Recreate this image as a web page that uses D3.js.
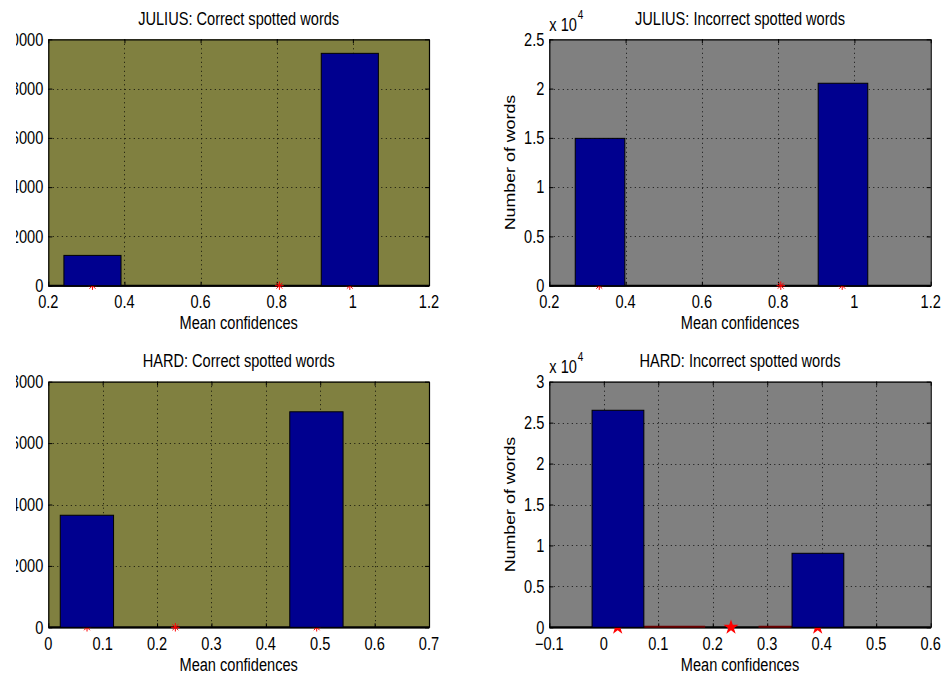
<!DOCTYPE html>
<html><head><meta charset="utf-8">
<script src="https://cdn.jsdelivr.net/npm/d3@7"></script>
<style>
html,body{margin:0;padding:0;background:#fff;}
svg{display:block;font-family:"Liberation Sans",Arial,sans-serif;}
</style></head>
<body>
<svg id="chart" width="949" height="679"></svg>
<script>
// ---------- data ----------
const titles = ["JULIUS: Correct spotted words", "JULIUS: Incorrect spotted words",
                "HARD: Correct spotted words", "HARD: Incorrect spotted words"];
const xLabel = "Mean confidences";
const yLabel = "Number of words";

const julCorrectCenters = [0.316, 0.992];
const julCorrectCounts = [1230, 9430];
const julCorrectStars = [0.316, 0.807, 0.992];

const julIncorrectCenters = [0.333, 0.970];
const julIncorrectCounts = [14950, 20540];
const julIncorrectStars = [0.331, 0.807, 0.968];

const hardCorrectCenters = [0.071, 0.493];
const hardCorrectCounts = [3650, 7020];
const hardCorrectStars = [0.0712, 0.2336, 0.4935];

const hardIncorrectCenters = [0.026, 0.393];
const hardIncorrectCounts = [26510, 9040];
const hardIncorrectStars = [0.0255, 0.2335, 0.3926];
const hardIncorrectZeroLine = [[0.074, 0.186], [0.284, 0.345]];

const barWidths = [0.15, 0.13, 0.098, 0.095];

const xTicksJulius = [0.2, 0.4, 0.6, 0.8, 1, 1.2];
const xTicksHard = [0, 0.1, 0.2, 0.3, 0.4, 0.5, 0.6, 0.7];
const xTicksHardInc = [-0.1, 0, 0.1, 0.2, 0.3, 0.4, 0.5, 0.6];
const yTicksJulCorrect = [0, 2000, 4000, 6000, 8000, 10000];
const yTicksJulIncorrect = [0, 5000, 10000, 15000, 20000, 25000];
const yTicksHardCorrect = [0, 2000, 4000, 6000, 8000];
const yTicksHardIncorrect = [0, 5000, 10000, 15000, 20000, 25000, 30000];

// ---------- layout / style ----------
const FS = 14.6, SY = 1.22;
const OLIVE = "#808040", GRAY = "#808080", NAVY = "#00008f";
const svg = d3.select("#chart");

// the reference figure is cropped on its left edge, cutting the left panels' tick labels
svg.append("defs").append("clipPath").attr("id", "leftcrop")
  .append("rect").attr("x", 16).attr("y", 0).attr("width", 949).attr("height", 679);

const panels = [
  {box:[48.3, 429, 39.3, 285.7], bg:OLIVE, centers:julCorrectCenters, counts:julCorrectCounts, stars:julCorrectStars,
   xd:[0.2,1.2], yd:[0,10000], xt:xTicksJulius, yt:yTicksJulCorrect, sci:false, ylab:false, star:"ast"},
  {box:[549.3, 930.7, 39.3, 285.7], bg:GRAY, centers:julIncorrectCenters, counts:julIncorrectCounts, stars:julIncorrectStars,
   xd:[0.2,1.2], yd:[0,25000], xt:xTicksJulius, yt:yTicksJulIncorrect, sci:true, ylab:true, star:"ast"},
  {box:[48.3, 429, 381.7, 627.3], bg:OLIVE, centers:hardCorrectCenters, counts:hardCorrectCounts, stars:hardCorrectStars,
   xd:[0,0.7], yd:[0,8000], xt:xTicksHard, yt:yTicksHardCorrect, sci:false, ylab:false, star:"ast"},
  {box:[549.3, 930.7, 381.7, 627.3], bg:GRAY, centers:hardIncorrectCenters, counts:hardIncorrectCounts, stars:hardIncorrectStars,
   xd:[-0.1,0.6], yd:[0,30000], xt:xTicksHardInc, yt:yTicksHardIncorrect, sci:true, ylab:true, star:"star", zline:hardIncorrectZeroLine}
];

function txt(g, x, y, s, anchor, rot, size) {
  const t = g.append("g")
    .attr("transform", `translate(${x},${y}) scale(1,${SY})` + (rot ? " rotate(-90)" : ""))
    .append("text").attr("text-anchor", anchor).attr("font-size", size || FS).attr("fill", "#000");
  t.text(s);
  return t;
}
function fmtX(v) { return (v < 0 ? "\u2212" : "") + d3.format("~g")(Math.abs(v)); }

panels.forEach((p, i) => {
  const [x0, x1, y0, y1] = p.box;
  const x = d3.scaleLinear().domain(p.xd).range([x0, x1]);
  const y = d3.scaleLinear().domain(p.yd).range([y1, y0]);
  const g = svg.append("g");

  g.append("rect").attr("x", x0).attr("y", y0).attr("width", x1 - x0).attr("height", y1 - y0).attr("fill", p.bg);

  // grid
  const grid = g.append("g").attr("stroke", "#000").attr("stroke-width", 1).attr("stroke-dasharray", "1,3.5").attr("opacity", 0.85);
  p.xt.forEach(v => { if (v > p.xd[0] && v < p.xd[1]) grid.append("line").attr("x1", Math.round(x(v))+0.5).attr("x2", Math.round(x(v))+0.5).attr("y1", y0).attr("y2", y1); });
  p.yt.forEach(v => { if (v > p.yd[0] && v < p.yd[1]) grid.append("line").attr("y1", Math.round(y(v))+0.5).attr("y2", Math.round(y(v))+0.5).attr("x1", x0).attr("x2", x1); });

  // axes via d3 (ticks inward, on all sides)
  const tl = 4;
  const axB = d3.axisBottom(x).tickValues(p.xt).tickSizeInner(-tl).tickSizeOuter(0).tickFormat("");
  const axT = d3.axisTop(x).tickValues(p.xt).tickSizeInner(-tl).tickSizeOuter(0).tickFormat("");
  const axL = d3.axisLeft(y).tickValues(p.yt).tickSizeInner(-tl).tickSizeOuter(0).tickFormat("");
  const axR = d3.axisRight(y).tickValues(p.yt).tickSizeInner(-tl).tickSizeOuter(0).tickFormat("");
  const ag = g.append("g");
  ag.append("g").attr("transform", `translate(0,${y1})`).call(axB);
  ag.append("g").attr("transform", `translate(0,${y0})`).call(axT);
  ag.append("g").attr("transform", `translate(${x0},0)`).call(axL);
  ag.append("g").attr("transform", `translate(${x1},0)`).call(axR);
  ag.selectAll(".domain").attr("stroke", "#000").attr("stroke-width", 1.2);
  ag.selectAll(".tick line").attr("stroke", "#000");
  g.append("line").attr("x1", x0).attr("x2", x1).attr("y1", y1).attr("y2", y1).attr("stroke", "#000").attr("stroke-width", 2);

  // dark red zero line
  if (p.zline) {
    p.zline.forEach(s => g.append("line").attr("x1", x(s[0])).attr("x2", x(s[1])).attr("y1", y(0) - 0.5).attr("y2", y(0) - 0.5)
      .attr("stroke", "#6a0000").attr("stroke-width", 2));
  }

  // stars
  p.stars.forEach(c => {
    const cx = x(c), cy = y(0);
    if (p.star === "star") {
      g.append("path").attr("d", d3.symbol(d3.symbolStar, 70)()).attr("transform", `translate(${cx},${cy})`).attr("fill", "#ff0000");
    } else {
      const r = 4.2, d = r * 0.7;
      g.append("path").attr("d", `M${cx},${cy-r}V${cy+r}M${cx-r},${cy}H${cx+r}M${cx-d},${cy-d}L${cx+d},${cy+d}M${cx-d},${cy+d}L${cx+d},${cy-d}`)
        .attr("stroke", "#ff0000").attr("stroke-width", 1).attr("fill", "none");
    }
  });

  // bars
  const w = barWidths[i];
  g.selectAll(".bar").data(p.centers.map((c, k) => ({c, v: p.counts[k]}))).enter().append("rect")
    .attr("x", d => x(d.c - w / 2)).attr("width", d => x(d.c + w / 2) - x(d.c - w / 2))
    .attr("y", d => y(d.v)).attr("height", d => y(0) - y(d.v))
    .attr("fill", NAVY).attr("stroke", "#000").attr("stroke-width", 1);

  // tick labels
  p.xt.forEach(v => txt(g, x(v), y1 + 22.5, fmtX(v), "middle"));
  const yl = g.append("g");
  if (!p.sci) yl.attr("clip-path", "url(#leftcrop)");
  p.yt.forEach(v => txt(yl, x0 - 5, y(v) + 6.3, p.sci ? d3.format("~g")(v / 10000) : String(v), "end"));

  if (p.sci) {
    txt(g, x0, y0 - 8.6, "x 10", "start");
    txt(g, x0 + 28.5, y0 - 20.8, "4", "start", false, 10);
  }
  txt(g, (x0 + x1) / 2, y0 - 14.3, titles[i], "middle");
  txt(g, (x0 + x1) / 2, y1 + 43.6, xLabel, "middle");
  if (p.ylab) txt(g, x0 - 34.5, (y0 + y1) / 2, yLabel, "middle", true);
});
</script>
</body></html>
